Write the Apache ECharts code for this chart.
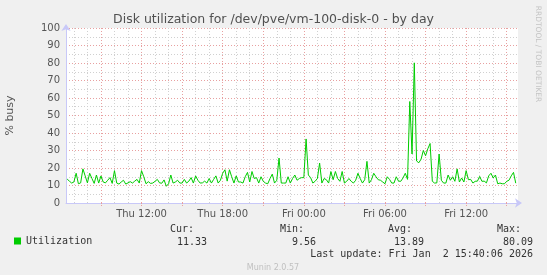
<!DOCTYPE html>
<html>
<head>
<meta charset="utf-8">
<script src="https://cdn.jsdelivr.net/npm/echarts@6/dist/echarts.min.js"></script>
<style>
html,body{margin:0;padding:0;background:#f0f0f0;}
#chart{width:547px;height:275px;}
</style>
</head>
<body>
<div id="chart"></div>
<script>
// ---- text ----
const titleText = 'Disk utilization for /dev/pve/vm-100-disk-0 - by day';
const yAxisName = '% busy';
const seriesName = 'Utilization';
const statHeaders = ['Cur:', 'Min:', 'Avg:', 'Max:'];
const statValues = ['11.33', '9.56', '13.89', '80.09'];
const lastUpdateText = 'Last update: Fri Jan  2 15:40:06 2026';
const footerText = 'Munin 2.0.57';
const watermarkText = 'RRDTOOL / TOBI OETIKER';

// ---- time axis (minutes since Thu 00:00) ----
const axisStartMinute = 385;   // Thu 06:25
const axisEndMinute = 2390;    // Fri 15:50
const firstSampleMinute = 390; // Thu 06:30
const sampleStepMinutes = 10;
const xLabelMinutes = [720, 1080, 1440, 1800, 2160];
const xLabelTexts = ['Thu 12:00', 'Thu 18:00', 'Fri 00:00', 'Fri 06:00', 'Fri 12:00'];

// ---- y axis ----
const yMin = 0, yMax = 100, yStep = 10;

// ---- series values (% busy), one every 10 minutes ----
const utilization = [
  13.7, 12.5, 11.4, 12.0, 17.0, 11.0, 11.5, 19.5, 15.5, 11.5,
  17.0, 14.0, 11.2, 16.0, 11.4, 15.5, 12.0, 11.5, 13.0, 14.5,
  11.2, 18.5, 11.4, 10.8, 12.0, 13.0, 10.8, 11.5, 12.2, 11.4,
  12.5, 13.5, 11.4, 18.5, 15.0, 11.0, 12.2, 11.2, 11.4, 12.4,
  13.5, 11.5, 11.3, 13.2, 9.56, 11.0, 16.0, 11.4, 12.0, 13.0,
  11.4, 11.4, 13.5, 11.4, 12.5, 14.5, 11.4, 15.5, 13.0, 11.4,
  11.5, 12.5, 11.4, 14.0, 11.4, 13.5, 15.5, 11.4, 13.0, 17.0,
  19.0, 12.5, 19.0, 15.0, 11.4, 15.5, 12.0, 12.0, 11.4, 15.0,
  17.5, 12.0, 18.0, 14.0, 14.5, 11.4, 15.0, 12.4, 11.4, 11.0,
  14.0, 16.5, 11.4, 13.0, 25.7, 11.4, 11.4, 11.4, 15.0, 11.4,
  14.0, 16.0, 13.0, 14.0, 14.5, 14.5, 36.6, 16.0, 14.5, 11.4,
  12.4, 14.0, 22.8, 11.4, 14.0, 13.3, 11.4, 18.0, 13.3, 18.0,
  14.0, 12.4, 18.0, 11.4, 12.4, 14.0, 12.4, 11.4, 13.0, 17.0,
  14.0, 11.4, 13.3, 23.8, 11.4, 13.3, 17.0, 15.0, 13.3, 13.0,
  12.0, 11.0, 15.0, 13.5, 11.4, 11.4, 15.0, 12.5, 12.4, 14.3,
  17.0, 13.5, 58.0, 28.0, 80.09, 24.0, 23.0, 25.0, 30.0, 27.0,
  31.0, 34.0, 12.4, 11.4, 11.5, 28.0, 13.0, 11.4, 11.4, 16.0,
  13.0, 15.0, 12.4, 19.5, 12.0, 14.3, 12.0, 18.5, 13.3, 13.5,
  11.4, 12.4, 12.5, 15.2, 12.4, 12.5, 11.5, 15.5, 17.0, 14.3,
  16.0, 11.0, 11.4, 11.0, 11.0, 12.4, 13.0, 15.5, 17.5, 11.33
];

// ---- derived ----
const seriesData = utilization.map((v, i) => [firstSampleMinute + i * sampleStepMinutes, v]);
const majorGridMinutes = [];
const minorGridMinutes = [];
for (let m = Math.ceil(axisStartMinute / 60) * 60; m <= axisEndMinute; m += 60) {
  if (m % 180 === 0) majorGridMinutes.push(m); else minorGridMinutes.push(m);
}
const labelByMinute = {};
xLabelMinutes.forEach((m, i) => { labelByMinute[m] = xLabelTexts[i]; });

const textColor = '#555555';
const axisColor = '#c8c8f8';
const majorColor = '#e8a0a0';
const minorColor = '#d0d0d0';
const sansFont = 'DejaVu Sans';
const monoFont = 'DejaVu Sans Mono';

const headerRight = [194, 304, 412, 521];
const valueRight = [207, 316, 424, 533];
const graphics = [];
function txt(x, y, t, font, fill, align, rot) {
  const g = { type: 'text', x: x, y: y,
    style: { text: t, font: font, fill: fill, align: align, verticalAlign: 'middle', textAlign: align, textVerticalAlign: 'middle' } };
  if (rot) g.rotation = rot;
  return g;
}
statHeaders.forEach((t, i) => graphics.push(txt(headerRight[i], 229.5, t, '10px "' + monoFont + '"', '#333', 'right')));
statValues.forEach((t, i) => graphics.push(txt(valueRight[i], 242, t, '10px "' + monoFont + '"', '#333', 'right')));
graphics.push(txt(533, 254.5, lastUpdateText, '10px "' + monoFont + '"', '#333', 'right'));
graphics.push(txt(273, 267.5, footerText, '8px "' + sansFont + '"', '#c0c0c0', 'center'));
graphics.push(txt(538, 54, watermarkText, '7.5px "' + sansFont + '"', '#c4c4c4', 'center', -Math.PI / 2));

const chart = echarts.init(document.getElementById('chart'), null, { renderer: 'canvas' });
chart.setOption({
  backgroundColor: '#f0f0f0',
  animation: false,
  title: {
    text: titleText, left: 'center', top: 13, padding: 0,
    textStyle: { fontFamily: sansFont, fontSize: 12.5, fontWeight: 'normal', color: '#505050' }
  },
  legend: {
    left: 14, top: 236, padding: 0, icon: 'rect', itemWidth: 7, itemHeight: 7,
    data: [seriesName],
    textStyle: { fontFamily: monoFont, fontSize: 10, color: '#333' }
  },
  grid: { left: 66, top: 28, right: 29, bottom: 72, show: true, backgroundColor: '#ffffff', borderWidth: 0, containLabel: false, outerBoundsMode: 'none' },
  xAxis: [
    {
      type: 'value', min: axisStartMinute, max: axisEndMinute, position: 'bottom',
      axisLine: { show: true, lineStyle: { color: axisColor, width: 1 }, symbol: ['none', 'arrow'], symbolSize: [7, 7], symbolOffset: [0, 4] },
      axisTick: { show: true, customValues: majorGridMinutes, length: 3, lineStyle: { color: majorColor, type: [1, 1] } },
      axisLabel: {
        customValues: xLabelMinutes, margin: 6,
        formatter: v => labelByMinute[v] || '',
        fontFamily: sansFont, fontSize: 10, color: textColor
      },
      splitLine: { show: true, lineStyle: { color: majorColor, type: [1, 2] } }
    },
    {
      type: 'value', min: axisStartMinute, max: axisEndMinute, position: 'bottom',
      axisLine: { show: false },
      axisTick: { show: false, customValues: minorGridMinutes },
      axisLabel: { show: false },
      splitLine: { show: true, lineStyle: { color: minorColor, type: [1, 2] } }
    }
  ],
  yAxis: {
    type: 'value', min: yMin, max: yMax, interval: yStep,
    name: yAxisName, nameLocation: 'middle', nameGap: 50,
    nameTextStyle: { fontFamily: sansFont, fontSize: 11, color: textColor },
    axisLine: { show: true, lineStyle: { color: axisColor, width: 1 }, symbol: ['none', 'arrow'], symbolSize: [7, 7], symbolOffset: [0, 4] },
    axisTick: { show: false },
    axisLabel: { margin: 6, fontFamily: sansFont, fontSize: 10, color: textColor },
    splitLine: { show: true, lineStyle: { color: majorColor, type: [1, 2] } },
    minorTick: { show: false, splitNumber: 2 },
    minorSplitLine: { show: true, lineStyle: { color: minorColor, type: [1, 2] } }
  },
  series: [{
    name: seriesName, type: 'line', xAxisIndex: 0, data: seriesData,
    showSymbol: false, symbol: 'none',
    lineStyle: { color: '#00cc00', width: 1 }, itemStyle: { color: '#00cc00' },
    emphasis: { disabled: true }
  }],
  graphic: graphics
});
</script>
</body>
</html>
